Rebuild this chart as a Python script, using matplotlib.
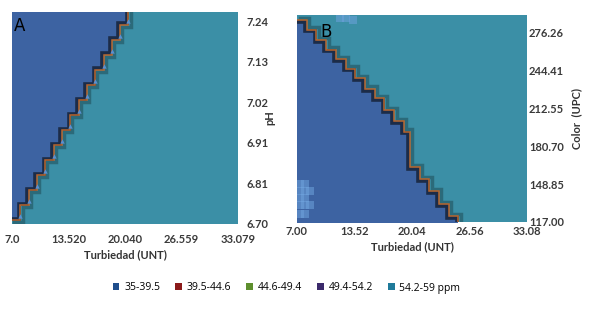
import matplotlib
matplotlib.use('Agg')
import matplotlib.pyplot as plt
import matplotlib.transforms as mtransforms
from matplotlib.patches import Patch

plt.rcParams['font.family'] = ['Lato', 'DejaVu Sans']

# panel A: turbidity vs pH
xticks_a = ['7.0', '13.520', '20.040', '26.559', '33.079']
yticks_a = ['6.70', '6.81', '6.91', '7.02', '7.13', '7.24']
stair_x_a = [7.0, 7.96, 8.92, 9.88, 10.84, 11.80, 12.76, 13.72, 14.68, 15.64,
             16.60, 17.56, 18.52, 19.48, 20.44]
stair_y_a = [6.71, 6.75, 6.79, 6.83, 6.87, 6.91, 6.95, 6.99, 7.03, 7.07,
             7.11, 7.15, 7.19, 7.23, 7.27]

# panel B: turbidity vs colour
xticks_b = ['7.00', '13.52', '20.04', '26.56', '33.08']
yticks_b = ['117.00', '148.85', '180.70', '212.55', '244.41', '276.26']
stair_x_b = [7.0, 8.1, 9.2, 10.3, 11.4, 12.5, 13.6, 14.7, 15.8, 16.9, 18.0,
             19.1, 19.8, 20.9, 22.0, 23.1, 24.2, 25.3]
stair_y_b = [287, 279, 270, 262, 254, 246, 238, 229, 221, 211, 202, 193,
             163, 153, 143, 132, 122, 112]
speckle_x = [7.3, 7.9, 7.3, 7.9, 8.5, 7.3, 7.9, 7.3, 7.9, 8.5, 7.3, 7.9,
             11.9, 12.6, 13.3]
speckle_y = [149, 149, 143, 143, 143, 137, 137, 131, 131, 131, 124, 124,
             289, 289, 287]

legend_labels = ['35-39.5', '39.5-44.6', '44.6-49.4', '49.4-54.2', '54.2-59 ppm']
legend_colors = ['#1f4e8c', '#8b1a1a', '#5e8f2e', '#3b2a6b', '#1f7a9a']

BLUE = '#3d63a2'
TEAL = '#3b8fa6'
NAVY = '#1c2c48'
ORANGE = '#b8652c'
DTEAL = '#2b6a7a'


def stair_lines(ax, fig, xs, ys, navy_off, teal_off):
    t1 = mtransforms.offset_copy(ax.transData, fig=fig, x=navy_off[0], y=navy_off[1], units='points')
    t2 = mtransforms.offset_copy(ax.transData, fig=fig, x=teal_off[0], y=teal_off[1], units='points')
    ax.step(xs, ys, where='post', color=DTEAL, lw=2.5, transform=t2, solid_joinstyle='miter')
    ax.step(xs, ys, where='post', color=NAVY, lw=2.6, transform=t1, solid_joinstyle='miter')
    ax.step(xs, ys, where='post', color=ORANGE, lw=1.1, solid_joinstyle='miter')


def style_axes(ax, xlabels, ylabels, xlim, ylim, ytop_tick, ylab, xpad, ypad, lpad):
    ax.set_facecolor(TEAL)
    ax.set_xlim(*xlim)
    ax.set_ylim(*ylim)
    ax.set_xticks([xlim[0] + i * (xlim[1] - xlim[0]) / 4 for i in range(5)])
    ax.set_xticklabels(xlabels)
    ax.set_yticks([ylim[0] + i * (ytop_tick - ylim[0]) / 5 for i in range(6)])
    ax.set_yticklabels(ylabels)
    ax.yaxis.tick_right()
    ax.yaxis.set_label_position('right')
    ax.tick_params(length=0, labelsize=8, labelcolor='#3a3a3a')
    ax.tick_params(axis='x', pad=xpad)
    ax.tick_params(axis='y', pad=ypad)
    for lab in ax.get_xticklabels() + ax.get_yticklabels():
        lab.set_fontweight('bold')
    for s in ax.spines.values():
        s.set_visible(False)
    ax.set_xlabel('Turbiedad (UNT)', fontsize=8, fontweight='bold', color='#333333', labelpad=3)
    ax.set_ylabel(ylab, fontsize=8, fontweight='bold', color='#333333', labelpad=lpad)


fig = plt.figure(figsize=(5.89, 3.32), dpi=100)
W, H = 589, 332

axA = fig.add_axes([12 / W, 1 - 224 / H, 226 / W, 212 / H])
style_axes(axA, xticks_a, yticks_a, (7.0, 33.079), (6.70, 7.265), 7.24, 'pH', 7, 6, -3)
axA.fill_between(stair_x_a, stair_y_a, 7.3, step='post', color=BLUE, lw=0)
stair_lines(axA, fig, stair_x_a, stair_y_a, (-1.2, 1.2), (1.6, -1.6))
axA.scatter(stair_x_a[1:], [y + 0.012 for y in stair_y_a[:-1]], marker='^', s=10,
            color='#5a8fd0', lw=0, zorder=3)
axA.text(0.01, 0.975, 'A', transform=axA.transAxes, fontsize=12, va='top', ha='left',
         family=['DejaVu Sans'])

axB = fig.add_axes([297 / W, 1 - 222 / H, 230 / W, 207 / H])
style_axes(axB, xticks_b, yticks_b, (7.0, 33.08), (117.0, 291.3), 276.26, 'Color  (UPC)', 3, 1.5, 5)
axB.fill_between(stair_x_b, 100, stair_y_b, step='post', color=BLUE, lw=0)
axB.scatter(speckle_x, speckle_y, marker='s', s=26, color='#6ea2dc', lw=0, alpha=0.55)
stair_lines(axB, fig, stair_x_b, stair_y_b, (-1.2, -1.2), (1.8, 1.8))
axB.text(0.1, 0.96, 'B', transform=axB.transAxes, fontsize=12, va='top', ha='left',
         family=['DejaVu Sans'])

handles = [Patch(facecolor=c, edgecolor='none') for c in legend_colors]
fig.legend(handles, legend_labels, ncol=5, frameon=False, loc='center',
           bbox_to_anchor=(0.4865, 1 - 288 / H), handlelength=0.65,
           handleheight=0.65, columnspacing=1.45, handletextpad=0.45,
           prop={'family': ['Open Sans', 'DejaVu Sans'], 'size': 7.5})

fig.savefig('out.png', dpi=100)
